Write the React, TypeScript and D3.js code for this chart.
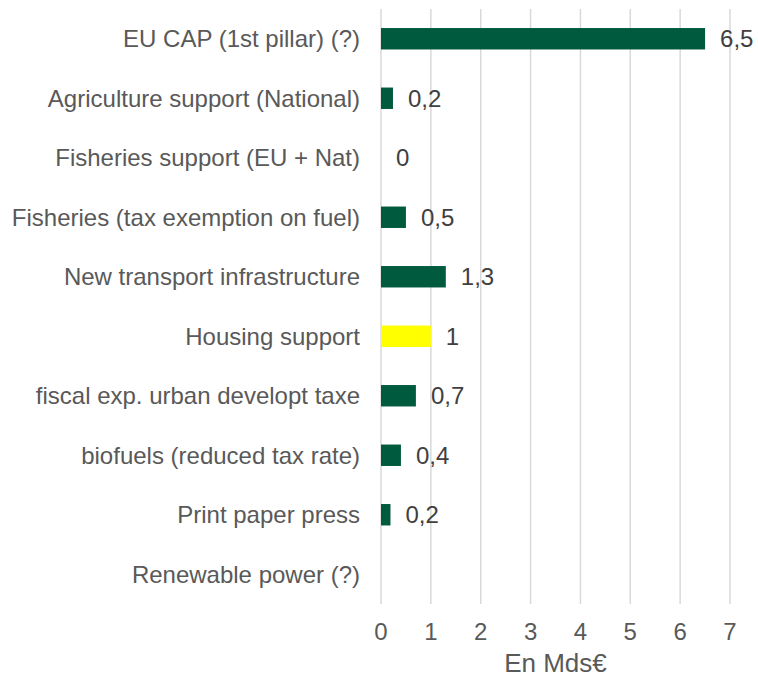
import { useEffect, useRef } from 'react'
import * as d3 from 'd3'

const categories = [
  'EU CAP (1st pillar) (?)',
  'Agriculture support (National)',
  'Fisheries support (EU + Nat)',
  'Fisheries (tax exemption on fuel)',
  'New transport infrastructure',
  'Housing support',
  'fiscal exp. urban developt taxe',
  'biofuels (reduced tax rate)',
  'Print paper press',
  'Renewable power (?)',
]
const values: (number | null)[] = [6.5, 0.24, 0, 0.5, 1.3, 1, 0.7, 0.4, 0.19, null]
const highlighted = ['Housing support']
const xTicks = [0, 1, 2, 3, 4, 5, 6, 7]
const axisTitle = 'En Mds€'

const WIDTH = 758
const HEIGHT = 678
const FONT = 'Arial, "Liberation Sans", sans-serif'

export default function App() {
  const svgRef = useRef<SVGSVGElement>(null)

  useEffect(() => {
    if (!svgRef.current) return
    const svg = d3.select(svgRef.current)
    svg.selectAll('*').remove()

    const margin = { top: 9, right: 28, bottom: 74, left: 381 }
    const innerHeight = HEIGHT - margin.top - margin.bottom

    const g = svg
      .append('g')
      .attr('transform', `translate(${margin.left},${margin.top})`)

    const xScale = d3.scaleLinear().domain([0, 7]).range([0, 349])
    const yScale = d3
      .scaleBand()
      .domain(categories)
      .range([0, innerHeight])
      .paddingInner(0.64)
      .paddingOuter(0.32)

    const fmt = d3.formatLocale({
      decimal: ',',
      thousands: ' ',
      grouping: [3],
      currency: ['', '€'],
    }).format('.1~f')

    // Grid lines
    g.append('g')
      .selectAll('line')
      .data(xTicks)
      .enter()
      .append('line')
      .attr('x1', (d) => xScale(d))
      .attr('x2', (d) => xScale(d))
      .attr('y1', 0)
      .attr('y2', innerHeight)
      .attr('stroke', '#d9d9d9')
      .attr('stroke-width', 1.5)

    // X tick labels
    g.append('g')
      .selectAll('text')
      .data(xTicks)
      .enter()
      .append('text')
      .attr('x', (d) => xScale(d))
      .attr('y', innerHeight + 36)
      .attr('text-anchor', 'middle')
      .attr('fill', '#595959')
      .attr('font-family', FONT)
      .attr('font-size', '24px')
      .text((d) => d)

    // Axis title
    g.append('text')
      .attr('x', xScale(3.5))
      .attr('y', innerHeight + 68)
      .attr('text-anchor', 'middle')
      .attr('fill', '#595959')
      .attr('font-family', FONT)
      .attr('font-size', '26px')
      .text(axisTitle)

    // Category labels
    g.append('g')
      .selectAll('text')
      .data(categories)
      .enter()
      .append('text')
      .attr('x', -21)
      .attr('y', (d) => (yScale(d) || 0) + yScale.bandwidth() / 2)
      .attr('dy', '0.36em')
      .attr('text-anchor', 'end')
      .attr('fill', '#595959')
      .attr('font-family', FONT)
      .attr('font-size', '24px')
      .text((d) => d)

    const rows = categories.map((c, i) => ({ label: c, value: values[i] }))

    // Bars
    g.append('g')
      .selectAll('rect')
      .data(rows.filter((d) => d.value !== null))
      .enter()
      .append('rect')
      .attr('x', xScale(0))
      .attr('y', (d) => yScale(d.label) || 0)
      .attr('width', (d) => xScale(d.value as number) - xScale(0))
      .attr('height', yScale.bandwidth())
      .attr('fill', (d) => (highlighted.includes(d.label) ? '#ffff00' : '#005a3e'))

    // Value labels
    g.append('g')
      .selectAll('text')
      .data(rows.filter((d) => d.value !== null))
      .enter()
      .append('text')
      .attr('x', (d) => xScale(d.value as number) + 15)
      .attr('y', (d) => (yScale(d.label) || 0) + yScale.bandwidth() / 2)
      .attr('dy', '0.36em')
      .attr('fill', '#404040')
      .attr('font-family', FONT)
      .attr('font-size', '24px')
      .text((d) => fmt(d.value as number))
  }, [])

  return (
    <svg
      ref={svgRef}
      width={WIDTH}
      height={HEIGHT}
      style={{ position: 'absolute', left: 0, top: 0, background: '#fff' }}
    />
  )
}
